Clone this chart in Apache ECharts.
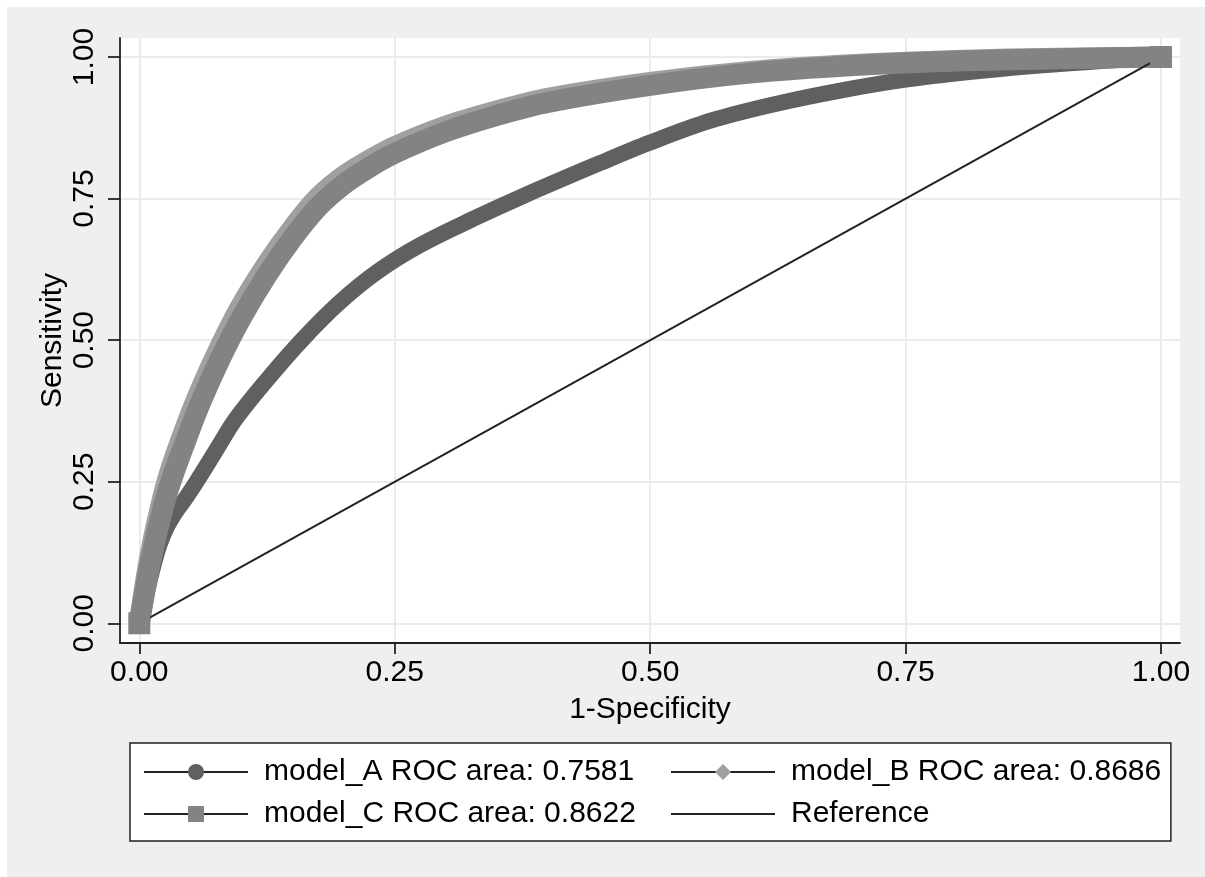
<!DOCTYPE html>
<html>
<head>
<meta charset="utf-8">
<title>ROC curves</title>
<script src="https://cdn.jsdelivr.net/npm/echarts@6.0.0/dist/echarts.min.js"></script>
<style>
  html, body { margin: 0; padding: 0; background: #efefef; overflow: hidden; }
  #chart { position: absolute; left: 0; top: 0; width: 1205px; height: 877px; }
  /* 左边和上边的白色页边 */
  .edge { position: absolute; left: 0; top: 0; background: #fff; z-index: 10; }
  #edge-top { width: 1205px; height: 7px; }
  #edge-left { width: 7px; height: 877px; }
</style>
</head>
<body>
<div id="chart"></div>
<div class="edge" id="edge-top"></div>
<div class="edge" id="edge-left"></div>
<script>
// ROC 曲线数据 (1-Specificity, Sensitivity)
const fprA = [0, 0.005, 0.01, 0.015, 0.02, 0.027, 0.035, 0.045, 0.056, 0.075, 0.094, 0.125, 0.159, 0.195, 0.234, 0.275, 0.329, 0.375, 0.45, 0.5, 0.56, 0.625, 0.69, 0.75, 0.81, 0.875, 0.935, 1];
const tprA = [0, 0.035, 0.075, 0.11, 0.14, 0.17, 0.195, 0.22, 0.25, 0.305, 0.36, 0.43, 0.5, 0.565, 0.622, 0.668, 0.716, 0.754, 0.812, 0.849, 0.888, 0.918, 0.942, 0.96, 0.973, 0.984, 0.992, 1];

const fprB = [0, 0.01, 0.02, 0.03, 0.045, 0.06, 0.08, 0.1, 0.125, 0.15, 0.175, 0.2, 0.225, 0.25, 0.3, 0.35, 0.4, 0.5, 0.6, 0.7, 0.8, 0.9, 1];
const tprB = [0, 0.115, 0.2, 0.268, 0.345, 0.413, 0.492, 0.562, 0.635, 0.698, 0.752, 0.79, 0.818, 0.842, 0.878, 0.905, 0.927, 0.955, 0.975, 0.987, 0.994, 0.998, 1];

const fprC = [0, 0.01, 0.02, 0.03, 0.045, 0.06, 0.08, 0.1, 0.125, 0.15, 0.175, 0.2, 0.225, 0.25, 0.3, 0.35, 0.4, 0.5, 0.6, 0.7, 0.8, 0.9, 1];
const tprC = [0, 0.1, 0.18, 0.245, 0.32, 0.39, 0.47, 0.54, 0.615, 0.68, 0.735, 0.775, 0.805, 0.83, 0.868, 0.897, 0.92, 0.95, 0.972, 0.985, 0.993, 0.997, 1];

const refX = [0, 1];
const refY = [0, 1];

const seriesNames = ['model_A ROC area: 0.7581', 'model_B ROC area: 0.8686', 'model_C ROC area: 0.8622', 'Reference'];
const tickLabels = ['0.00', '0.25', '0.50', '0.75', '1.00'];

const FONT = '"Liberation Sans", Arial, sans-serif';
const AXIS_COLOR = '#222';
const GRID_COLOR = '#ebebeb';

function pairs(xs, ys) {
  return xs.map((x, i) => [x, ys[i]]);
}

// 只在曲线两端画标记
function endMarker(size, count) {
  return function (val, params) {
    return params.dataIndex === 0 || params.dataIndex === count - 1 ? size : 0;
  };
}

function rocSeries(name, xs, ys, color, symbol, width) {
  return {
    name: name,
    type: 'line',
    xAxisIndex: 0,
    yAxisIndex: 0,
    data: pairs(xs, ys),
    smooth: 0.35,
    symbol: symbol,
    symbolSize: endMarker(width + 1, xs.length),
    showAllSymbol: true,
    itemStyle: { color: color },
    lineStyle: { color: color, width: width, join: 'round' },
    emphasis: { disabled: true },
  };
}

const chart = echarts.init(document.getElementById('chart'), null, { renderer: 'canvas' });

const legendCommon = {
  orient: 'vertical',
  top: 743,
  itemWidth: 104,
  itemHeight: 20,
  itemGap: 12,
  selectedMode: false,
  lineStyle: { color: AXIS_COLOR, width: 2 },
  textStyle: { fontSize: 30, color: '#000', fontFamily: FONT, padding: [0, 0, 0, 11] },
};

const option = {
  animation: false,
  backgroundColor: '#efefef',
  textStyle: { fontFamily: FONT },
  grid: [
    // 主绘图区
    { left: 120, right: 25, top: 38, bottom: 234, backgroundColor: '#fff', show: true, borderWidth: 0 },
    // x 轴刻度
    { left: 139.3, right: 44, top: 38, bottom: 234 },
    // y 轴刻度
    { left: 120, right: 25, top: 57, bottom: 253.7 },
  ],
  xAxis: [
    {
      gridIndex: 0,
      type: 'value',
      min: -0.0189,
      max: 1.0186,
      axisLine: { show: true, onZero: false, lineStyle: { color: AXIS_COLOR, width: 1.8 } },
      axisTick: { show: false },
      axisLabel: { show: false },
      splitLine: { show: false },
      name: '1-Specificity',
      nameLocation: 'middle',
      nameGap: 52,
      nameTextStyle: { fontSize: 30, color: '#000', fontFamily: FONT },
    },
    {
      gridIndex: 1,
      type: 'value',
      min: 0,
      max: 1,
      interval: 0.25,
      axisLine: { show: false, onZero: false },
      axisTick: { show: true, length: 11, lineStyle: { color: AXIS_COLOR, width: 1.8 } },
      axisLabel: {
        fontSize: 30,
        color: '#000',
        margin: 15,
        formatter: (v) => tickLabels[Math.round(v * 4)],
      },
      splitLine: { show: true, lineStyle: { color: GRID_COLOR, width: 2 } },
    },
    { gridIndex: 2, type: 'value', show: false, axisLine: { onZero: false } },
  ],
  yAxis: [
    {
      gridIndex: 0,
      type: 'value',
      min: -0.0348,
      max: 1.0336,
      axisLine: { show: true, onZero: false, lineStyle: { color: AXIS_COLOR, width: 1.8 } },
      axisTick: { show: false },
      axisLabel: { show: false },
      splitLine: { show: false },
      name: 'Sensitivity',
      nameLocation: 'middle',
      nameGap: 52,
      nameTextStyle: { fontSize: 30, color: '#000', fontFamily: FONT },
    },
    { gridIndex: 1, type: 'value', show: false, axisLine: { onZero: false } },
    {
      gridIndex: 2,
      type: 'value',
      min: 0,
      max: 1,
      interval: 0.25,
      axisLine: { show: false, onZero: false },
      axisTick: { show: true, length: 12, lineStyle: { color: AXIS_COLOR, width: 1.8 } },
      axisLabel: {
        fontSize: 30,
        color: '#000',
        margin: 20,
        rotate: 90,
        formatter: (v) => tickLabels[Math.round(v * 4)],
      },
      splitLine: { show: true, lineStyle: { color: GRID_COLOR, width: 2 } },
    },
  ],
  legend: [
    Object.assign({}, legendCommon, {
      left: 130,
      z: 3,
      padding: [14, 535, 12, 13],
      backgroundColor: '#fff',
      borderColor: AXIS_COLOR,
      borderWidth: 1.5,
      borderRadius: 0,
      data: [seriesNames[0], seriesNames[2]],
    }),
    Object.assign({}, legendCommon, {
      left: 670,
      z: 5,
      padding: [14, 0, 12, 0],
      data: [
        seriesNames[1],
        { name: seriesNames[3], icon: 'path://M0,0H100V2H0Z' },
      ],
    }),
  ],
  series: [
    rocSeries(seriesNames[0], fprA, tprA, '#606060', 'circle', 16),
    rocSeries(seriesNames[1], fprB, tprB, '#a0a0a0', 'diamond', 21),
    rocSeries(seriesNames[2], fprC, tprC, '#838383', 'rect', 21),
    {
      name: seriesNames[3],
      type: 'line',
      xAxisIndex: 0,
      yAxisIndex: 0,
      z: 3,
      data: pairs(refX, refY),
      symbol: 'none',
      itemStyle: { color: AXIS_COLOR },
      lineStyle: { color: AXIS_COLOR, width: 2 },
      emphasis: { disabled: true },
    },
  ],
};

chart.setOption(option);
</script>
</body>
</html>
